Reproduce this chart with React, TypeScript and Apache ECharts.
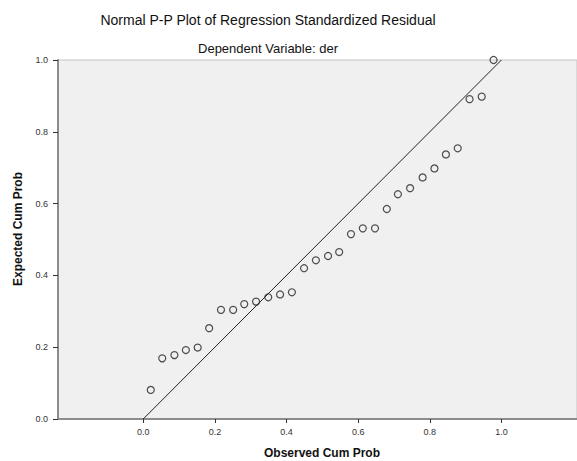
import React, { useEffect, useRef } from "react";
import * as echarts from "echarts";

const observedCumProb = [
  0.021, 0.053, 0.087, 0.119, 0.152, 0.184, 0.217, 0.251, 0.282, 0.315,
  0.349, 0.382, 0.415, 0.449, 0.482, 0.516, 0.547, 0.58, 0.613, 0.647,
  0.68, 0.711, 0.745, 0.78, 0.813, 0.845, 0.878, 0.911, 0.945, 0.978,
];
const expectedCumProb = [
  0.081, 0.169, 0.178, 0.192, 0.199, 0.253, 0.304, 0.304, 0.32, 0.327,
  0.339, 0.347, 0.353, 0.42, 0.442, 0.454, 0.465, 0.515, 0.531, 0.531,
  0.585, 0.626, 0.643, 0.673, 0.698, 0.737, 0.754, 0.891, 0.898, 1.0,
];
const referenceLine = [
  [0, 0],
  [1, 1],
];
const tickValues = [0, 0.2, 0.4, 0.6, 0.8, 1.0];

const titleText = "Normal P-P Plot of Regression Standardized Residual";
const subtitleText = "Dependent Variable: der";
const xName = "Observed Cum Prob";
const yName = "Expected Cum Prob";

const FONT = "Arial, 'Liberation Sans', sans-serif";

export default function App() {
  const ref = useRef<HTMLDivElement>(null);
  useEffect(() => {
    document.body.style.margin = "0";
    const chart = echarts.init(ref.current!, null, { renderer: "svg" });
    const points = observedCumProb.map((x, i) => [x, expectedCumProb[i]]);
    chart.setOption({
      animation: false,
      backgroundColor: "#ffffff",
      textStyle: { fontFamily: FONT },
      grid: {
        left: 58,
        top: 60,
        right: 0,
        bottom: 42,
        show: true,
        backgroundColor: "#f0f0f0",
        borderColor: "#c4c4c4",
        borderWidth: 1,
      },
      xAxis: {
        type: "value",
        min: -0.238,
        max: 1.211,
        splitLine: { show: false },
        axisLine: { show: true, onZero: false, lineStyle: { color: "#8c8c8c", width: 2 } },
        axisTick: {
          show: true,
          customValues: tickValues,
          length: 4,
          lineStyle: { color: "#333", width: 1 },
        },
        axisLabel: {
          customValues: tickValues,
          formatter: (v: number) => v.toFixed(1),
          color: "#333",
          fontSize: 9,
          margin: 8,
          fontFamily: FONT,
        },
      },
      yAxis: {
        type: "value",
        min: 0,
        max: 1,
        interval: 0.2,
        splitLine: { show: false },
        axisLine: { show: true, onZero: false, lineStyle: { color: "#8c8c8c", width: 2 } },
        axisTick: { show: true, length: 5, lineStyle: { color: "#333", width: 1 } },
        axisLabel: {
          formatter: (v: number) => v.toFixed(1),
          color: "#333",
          fontSize: 9,
          margin: 10,
          fontFamily: FONT,
        },
      },
      graphic: [
        {
          type: "text",
          x: 268,
          y: 20,
          style: {
            text: titleText,
            fontSize: 14,
            fontFamily: FONT,
            fill: "#111",
            textAlign: "center",
            textVerticalAlign: "middle",
          },
        },
        {
          type: "text",
          x: 268,
          y: 48,
          style: {
            text: subtitleText,
            fontSize: 13,
            fontFamily: FONT,
            fill: "#111",
            textAlign: "center",
            textVerticalAlign: "middle",
          },
        },
        {
          type: "text",
          x: 322,
          y: 453,
          style: {
            text: xName,
            fontSize: 12,
            fontWeight: "bold",
            fontFamily: FONT,
            fill: "#111",
            textAlign: "center",
            textVerticalAlign: "middle",
          },
        },
        {
          type: "text",
          x: 18,
          y: 229,
          rotation: Math.PI / 2,
          style: {
            text: yName,
            fontSize: 12,
            fontWeight: "bold",
            fontFamily: FONT,
            fill: "#111",
            textAlign: "center",
            textVerticalAlign: "middle",
          },
        },
      ],
      series: [
        {
          type: "line",
          data: referenceLine,
          symbol: "none",
          lineStyle: { color: "#222", width: 1 },
          z: 2,
        },
        {
          type: "scatter",
          data: points,
          symbol: "circle",
          symbolSize: 7,
          itemStyle: { color: "transparent", borderColor: "#222", borderWidth: 1.2 },
          z: 3,
        },
      ],
    });
    return () => chart.dispose();
  }, []);
  return (
    <div
      ref={ref}
      style={{ position: "absolute", left: 0, top: 0, width: 577, height: 461 }}
    />
  );
}
